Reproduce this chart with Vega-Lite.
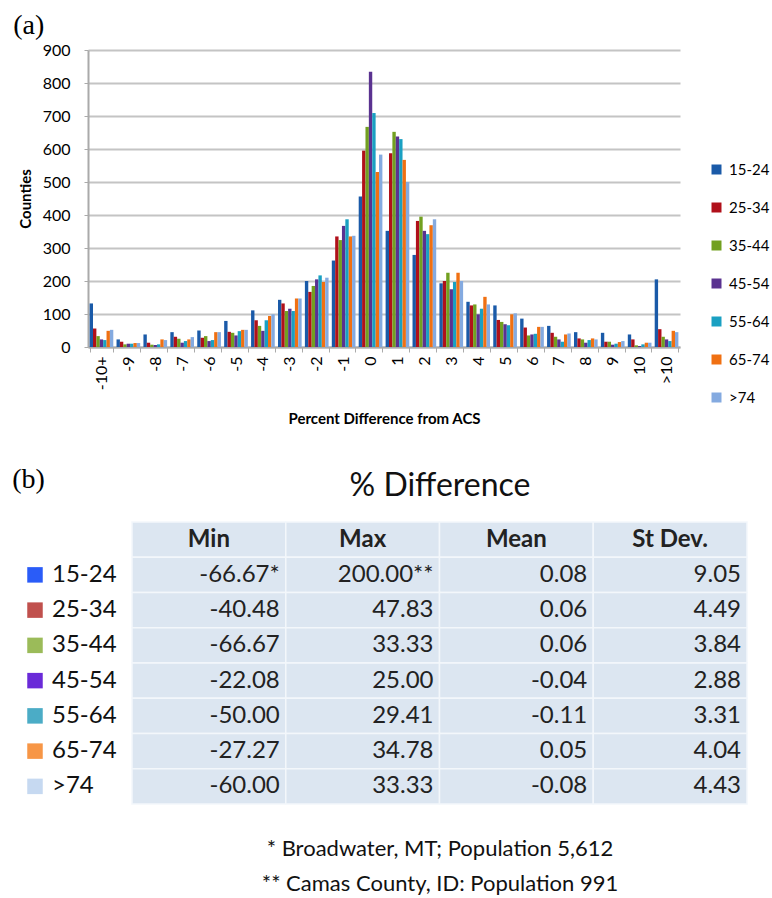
{
  "$schema": "https://vega.github.io/schema/vega-lite/v6.json",
  "background": "white",
  "padding": {"left": 12, "top": 12, "right": 5, "bottom": 5},
  "config": {"view": {"stroke": null}, "font": "Lato"},
  "datasets": {
    "bars": [
      {"b":"-10+","a":"15-24","n":132},{"b":"-10+","a":"25-34","n":56},{"b":"-10+","a":"35-44","n":33},{"b":"-10+","a":"45-54","n":23},{"b":"-10+","a":"55-64","n":21},{"b":"-10+","a":"65-74","n":49},{"b":"-10+","a":">74","n":52},
      {"b":"-9","a":"15-24","n":23},{"b":"-9","a":"25-34","n":16},{"b":"-9","a":"35-44","n":8},{"b":"-9","a":"45-54","n":10},{"b":"-9","a":"55-64","n":10},{"b":"-9","a":"65-74","n":12},{"b":"-9","a":">74","n":12},
      {"b":"-8","a":"15-24","n":38},{"b":"-8","a":"25-34","n":13},{"b":"-8","a":"35-44","n":7},{"b":"-8","a":"45-54","n":6},{"b":"-8","a":"55-64","n":8},{"b":"-8","a":"65-74","n":23},{"b":"-8","a":">74","n":21},
      {"b":"-7","a":"15-24","n":45},{"b":"-7","a":"25-34","n":31},{"b":"-7","a":"35-44","n":25},{"b":"-7","a":"45-54","n":13},{"b":"-7","a":"55-64","n":18},{"b":"-7","a":"65-74","n":23},{"b":"-7","a":">74","n":30},
      {"b":"-6","a":"15-24","n":50},{"b":"-6","a":"25-34","n":28},{"b":"-6","a":"35-44","n":33},{"b":"-6","a":"45-54","n":18},{"b":"-6","a":"55-64","n":21},{"b":"-6","a":"65-74","n":45},{"b":"-6","a":">74","n":45},
      {"b":"-5","a":"15-24","n":79},{"b":"-5","a":"25-34","n":46},{"b":"-5","a":"35-44","n":43},{"b":"-5","a":"45-54","n":35},{"b":"-5","a":"55-64","n":48},{"b":"-5","a":"65-74","n":52},{"b":"-5","a":">74","n":52},
      {"b":"-4","a":"15-24","n":111},{"b":"-4","a":"25-34","n":81},{"b":"-4","a":"35-44","n":64},{"b":"-4","a":"45-54","n":49},{"b":"-4","a":"55-64","n":81},{"b":"-4","a":"65-74","n":94},{"b":"-4","a":">74","n":99},
      {"b":"-3","a":"15-24","n":143},{"b":"-3","a":"25-34","n":132},{"b":"-3","a":"35-44","n":109},{"b":"-3","a":"45-54","n":116},{"b":"-3","a":"55-64","n":109},{"b":"-3","a":"65-74","n":147},{"b":"-3","a":">74","n":147},
      {"b":"-2","a":"15-24","n":200},{"b":"-2","a":"25-34","n":167},{"b":"-2","a":"35-44","n":185},{"b":"-2","a":"45-54","n":205},{"b":"-2","a":"55-64","n":217},{"b":"-2","a":"65-74","n":197},{"b":"-2","a":">74","n":210},
      {"b":"-1","a":"15-24","n":262},{"b":"-1","a":"25-34","n":335},{"b":"-1","a":"35-44","n":324},{"b":"-1","a":"45-54","n":367},{"b":"-1","a":"55-64","n":387},{"b":"-1","a":"65-74","n":335},{"b":"-1","a":">74","n":337},
      {"b":"0","a":"15-24","n":456},{"b":"0","a":"25-34","n":595},{"b":"0","a":"35-44","n":667},{"b":"0","a":"45-54","n":834},{"b":"0","a":"55-64","n":709},{"b":"0","a":"65-74","n":530},{"b":"0","a":">74","n":583},
      {"b":"1","a":"15-24","n":352},{"b":"1","a":"25-34","n":587},{"b":"1","a":"35-44","n":652},{"b":"1","a":"45-54","n":638},{"b":"1","a":"55-64","n":630},{"b":"1","a":"65-74","n":567},{"b":"1","a":">74","n":500},
      {"b":"2","a":"15-24","n":279},{"b":"2","a":"25-34","n":382},{"b":"2","a":"35-44","n":395},{"b":"2","a":"45-54","n":352},{"b":"2","a":"55-64","n":342},{"b":"2","a":"65-74","n":369},{"b":"2","a":">74","n":387},
      {"b":"3","a":"15-24","n":193},{"b":"3","a":"25-34","n":200},{"b":"3","a":"35-44","n":225},{"b":"3","a":"45-54","n":175},{"b":"3","a":"55-64","n":197},{"b":"3","a":"65-74","n":225},{"b":"3","a":">74","n":200},
      {"b":"4","a":"15-24","n":137},{"b":"4","a":"25-34","n":126},{"b":"4","a":"35-44","n":129},{"b":"4","a":"45-54","n":99},{"b":"4","a":"55-64","n":116},{"b":"4","a":"65-74","n":152},{"b":"4","a":">74","n":129},
      {"b":"5","a":"15-24","n":126},{"b":"5","a":"25-34","n":82},{"b":"5","a":"35-44","n":76},{"b":"5","a":"45-54","n":69},{"b":"5","a":"55-64","n":66},{"b":"5","a":"65-74","n":99},{"b":"5","a":">74","n":102},
      {"b":"6","a":"15-24","n":86},{"b":"6","a":"25-34","n":59},{"b":"6","a":"35-44","n":35},{"b":"6","a":"45-54","n":38},{"b":"6","a":"55-64","n":40},{"b":"6","a":"65-74","n":61},{"b":"6","a":">74","n":61},
      {"b":"7","a":"15-24","n":64},{"b":"7","a":"25-34","n":43},{"b":"7","a":"35-44","n":31},{"b":"7","a":"45-54","n":23},{"b":"7","a":"55-64","n":16},{"b":"7","a":"65-74","n":38},{"b":"7","a":">74","n":41},
      {"b":"8","a":"15-24","n":45},{"b":"8","a":"25-34","n":26},{"b":"8","a":"35-44","n":23},{"b":"8","a":"45-54","n":13},{"b":"8","a":"55-64","n":21},{"b":"8","a":"65-74","n":26},{"b":"8","a":">74","n":23},
      {"b":"9","a":"15-24","n":43},{"b":"9","a":"25-34","n":16},{"b":"9","a":"35-44","n":16},{"b":"9","a":"45-54","n":7},{"b":"9","a":"55-64","n":10},{"b":"9","a":"65-74","n":15},{"b":"9","a":">74","n":18},
      {"b":"10","a":"15-24","n":38},{"b":"10","a":"25-34","n":23},{"b":"10","a":"35-44","n":5},{"b":"10","a":"45-54","n":3},{"b":"10","a":"55-64","n":8},{"b":"10","a":"65-74","n":13},{"b":"10","a":">74","n":13},
      {"b":">10","a":"15-24","n":205},{"b":">10","a":"25-34","n":54},{"b":">10","a":"35-44","n":31},{"b":">10","a":"45-54","n":23},{"b":">10","a":"55-64","n":18},{"b":">10","a":"65-74","n":49},{"b":">10","a":">74","n":45}
    ],
    "cells": [
      {"row":"hdr","col":"Min","v":"Min"},{"row":"hdr","col":"Max","v":"Max"},{"row":"hdr","col":"Mean","v":"Mean"},{"row":"hdr","col":"St Dev.","v":"St Dev."},
      {"row":"15-24","col":"Min","v":"-66.67*"},{"row":"15-24","col":"Max","v":"200.00**"},{"row":"15-24","col":"Mean","v":"0.08"},{"row":"15-24","col":"St Dev.","v":"9.05"},
      {"row":"25-34","col":"Min","v":"-40.48"},{"row":"25-34","col":"Max","v":"47.83"},{"row":"25-34","col":"Mean","v":"0.06"},{"row":"25-34","col":"St Dev.","v":"4.49"},
      {"row":"35-44","col":"Min","v":"-66.67"},{"row":"35-44","col":"Max","v":"33.33"},{"row":"35-44","col":"Mean","v":"0.06"},{"row":"35-44","col":"St Dev.","v":"3.84"},
      {"row":"45-54","col":"Min","v":"-22.08"},{"row":"45-54","col":"Max","v":"25.00"},{"row":"45-54","col":"Mean","v":"-0.04"},{"row":"45-54","col":"St Dev.","v":"2.88"},
      {"row":"55-64","col":"Min","v":"-50.00"},{"row":"55-64","col":"Max","v":"29.41"},{"row":"55-64","col":"Mean","v":"-0.11"},{"row":"55-64","col":"St Dev.","v":"3.31"},
      {"row":"65-74","col":"Min","v":"-27.27"},{"row":"65-74","col":"Max","v":"34.78"},{"row":"65-74","col":"Mean","v":"0.05"},{"row":"65-74","col":"St Dev.","v":"4.04"},
      {"row":">74","col":"Min","v":"-60.00"},{"row":">74","col":"Max","v":"33.33"},{"row":">74","col":"Mean","v":"-0.08"},{"row":">74","col":"St Dev.","v":"4.43"}
    ],
    "legend": [
      {"row":"15-24"},{"row":"25-34"},{"row":"35-44"},{"row":"45-54"},{"row":"55-64"},{"row":"65-74"},{"row":">74"}
    ]
  },
  "vconcat": [
    {
      "width": 592,
      "height": 297,
      "title": {"text": "(a)", "anchor": "start", "frame": "bounds", "font": "Liberation Serif", "fontSize": 28, "fontWeight": "normal", "color": "#000", "offset": 2, "dx": -5},
      "data": {"name": "bars"},
      "mark": {"type": "bar"},
      "encoding": {
        "x": {
          "field": "b", "type": "nominal",
          "sort": ["-10+","-9","-8","-7","-6","-5","-4","-3","-2","-1","0","1","2","3","4","5","6","7","8","9","10",">10"],
          "scale": {"paddingInner": 0.12, "paddingOuter": 0.06},
          "axis": {"title": "Percent Difference from ACS", "labelAngle": -90, "labelFont": "Lato", "labelFontSize": 16, "labelColor": "#000", "labelPadding": 4, "tickBand": "extent", "tickSize": 5, "tickColor": "#aaaaaa", "domainColor": "#aaaaaa", "domainWidth": 2, "titleFont": "Lato", "titleFontSize": 15, "titleFontWeight": "bold", "titleColor": "#000", "titlePadding": 22}
        },
        "xOffset": {"field": "a", "type": "nominal", "sort": ["15-24","25-34","35-44","45-54","55-64","65-74",">74"]},
        "y": {
          "field": "n", "type": "quantitative",
          "scale": {"domain": [0, 900]},
          "axis": {"title": "Counties", "values": [0,100,200,300,400,500,600,700,800,900], "grid": true, "gridColor": "#c4c4c4", "gridWidth": 2, "domainColor": "#aaaaaa", "domainWidth": 2, "tickSize": 4, "tickColor": "#aaaaaa", "labelFont": "Lato", "labelFontSize": 16, "labelColor": "#000", "labelPadding": 14, "titleFont": "Lato", "titleFontSize": 15, "titleFontWeight": "bold", "titleColor": "#000", "titlePadding": 9}
        },
        "color": {
          "field": "a", "type": "nominal",
          "scale": {"domain": ["15-24","25-34","35-44","45-54","55-64","65-74",">74"], "range": ["#1a5aa8","#b0101a","#72a020","#5a3290","#1aa0c2","#f07012","#84aae0"]},
          "legend": {"title": null, "orient": "none", "legendX": 621, "legendY": 112, "symbolType": "square", "symbolSize": 100, "symbolStrokeWidth": 0, "labelFont": "Lato", "labelFontSize": 15, "labelColor": "#000", "rowPadding": 22, "padding": 0, "labelOffset": 5}
        }
      }
    },
    {
      "width": 660,
      "height": 282,
      "title": {"text": "(b)", "anchor": "start", "frame": "bounds", "font": "Liberation Serif", "fontSize": 28, "fontWeight": "normal", "color": "#000", "offset": -25, "dx": -15},
      "layer": [
        {
          "data": {"name": "cells"},
          "mark": {"type": "rect", "fill": "#dce6f1", "stroke": "#f3f7fb", "strokeWidth": 1.5},
          "encoding": {
            "x": {"field": "col", "type": "nominal", "sort": ["Min","Max","Mean","St Dev."], "scale": {"domain": ["Min","Max","Mean","St Dev."], "range": [44, 659], "paddingInner": 0, "paddingOuter": 0},
                  "axis": {"orient": "top", "title": "% Difference", "labels": false, "ticks": false, "domain": false, "titleFont": "Lato", "titleFontSize": 32, "titleFontWeight": "normal", "titleColor": "#111", "titlePadding": 20}},
            "y": {"field": "row", "type": "nominal", "scale": {"domain": ["hdr","15-24","25-34","35-44","45-54","55-64","65-74",">74"], "paddingInner": 0, "paddingOuter": 0}, "axis": null}
          }
        },
        {
          "data": {"name": "cells"},
          "transform": [{"filter": "datum.row === 'hdr'"}],
          "mark": {"type": "text", "font": "Lato", "fontSize": 24, "fontWeight": "bold", "color": "#222", "align": "center", "baseline": "middle"},
          "encoding": {
            "x": {"field": "col", "type": "nominal", "axis": null},
            "y": {"field": "row", "type": "nominal", "axis": null},
            "text": {"field": "v"}
          }
        },
        {
          "data": {"name": "cells"},
          "transform": [{"filter": "datum.row !== 'hdr'"}],
          "mark": {"type": "text", "font": "Lato", "fontSize": 24, "color": "#222", "align": "right", "baseline": "middle", "dx": -6},
          "encoding": {
            "x": {"field": "col", "type": "nominal", "bandPosition": 1,
                  "axis": {"orient": "bottom", "title": ["* Broadwater, MT; Population 5,612", "** Camas County, ID: Population 991"], "labels": false, "ticks": false, "domain": false, "titleFont": "Lato", "titleFontSize": 22, "titleFontWeight": "normal", "titleColor": "#111", "titleLineHeight": 35, "titlePadding": 34}},
            "y": {"field": "row", "type": "nominal", "axis": null},
            "text": {"field": "v"}
          }
        },
        {
          "data": {"name": "legend"},
          "mark": {"type": "square", "size": 240, "opacity": 1, "xOffset": -97},
          "encoding": {
            "x": {"datum": "Min", "bandPosition": 0, "axis": null},
            "y": {"field": "row", "type": "nominal", "axis": null},
            "color": {"field": "row", "type": "nominal", "scale": {"domain": ["15-24","25-34","35-44","45-54","55-64","65-74",">74"], "range": ["#2a5cf8","#c0504d","#9bbb59","#6a2ad8","#4bacc6","#f79646","#c6d9f1"]}, "legend": null}
          }
        },
        {
          "data": {"name": "legend"},
          "mark": {"type": "text", "font": "Lato", "fontSize": 24, "color": "#111", "align": "left", "baseline": "middle", "xOffset": -80},
          "encoding": {
            "x": {"datum": "Min", "bandPosition": 0, "axis": null},
            "y": {"field": "row", "type": "nominal", "axis": null},
            "text": {"field": "row"}
          }
        }
      ],
      "resolve": {"axis": {"x": "independent"}, "scale": {"color": "independent"}}
    }
  ],
  "spacing": 39
}
